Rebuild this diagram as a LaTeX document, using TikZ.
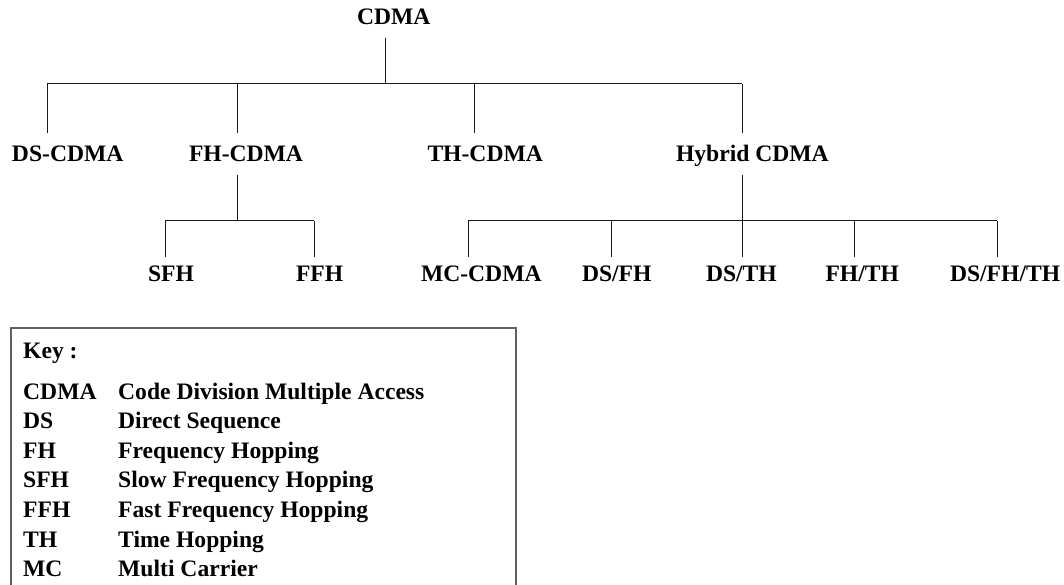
\documentclass[tikz,border=0pt]{standalone}
\usepackage{fontspec}
\setmainfont{Liberation Serif}
\newcommand{\lbfont}{\fontsize{23.6}{28}\selectfont\bfseries}
\begin{document}
\begin{tikzpicture}[x=1pt,y=-1pt,
  lbl/.style={font=\lbfont, inner sep=0pt, outer xsep=0pt,
              text height=16pt, text depth=0pt, anchor=base west},
  upper/.style={lbl, outer ysep=13pt},
  lower/.style={lbl, outer ysep=8pt},
  keytxt/.style={font=\lbfont, inner sep=0pt, anchor=base west},
  tree/.style={line width=1pt, draw=black!90},
  keybox/.style={line width=2pt, draw=black!62}]
\useasboundingbox (0,0) rectangle (1064,585);
\clip (0,0) rectangle (1064,585);

% root and first level
\node[upper] (root) at (357,25) {CDMA};
\node[upper] (ds)  at (12,162)  {DS-CDMA};
\node[upper] (fh)  at (189,162) {FH-CDMA};
\node[upper] (th)  at (427.5,162) {TH-CDMA};
\node[upper] (hyb) at (676,162) {Hybrid CDMA};

% second level
\node[lower] (sfh)    at (148,281) {SFH};
\node[lower] (ffh)    at (296,281) {FFH};
\node[lower] (mc)     at (421,281) {MC-CDMA};
\node[lower] (dsfh)   at (582,281) {DS/FH};
\node[lower] (dsth)   at (706,281) {DS/TH};
\node[lower] (fhth)   at (825.5,281) {FH/TH};
\node[lower] (dsfhth) at (950,281) {DS/FH/TH};

% junction points on the bars
\coordinate (j0)  at (385,84);
\coordinate (jds) at (47,84);
\coordinate (jfh) at (237,84);
\coordinate (jth) at (474,84);
\coordinate (jhy) at (742,84);

\coordinate (f0)   at (237,221);
\coordinate (fsfh) at (165,221);
\coordinate (fffh) at (314,221);

\coordinate (h0)     at (742,221);
\coordinate (hmc)    at (468,221);
\coordinate (hdsfh)  at (611,221);
\coordinate (hfhth)  at (854,221);
\coordinate (hdsfht) at (997,221);

% CDMA branch
\draw[tree] (root.south -| j0) -- (j0);
\draw[tree] (jds) -- (jhy);
\draw[tree] (jds) -- (jds |- ds.north);
\draw[tree] (jfh) -- (jfh |- fh.north);
\draw[tree] (jth) -- (jth |- th.north);
\draw[tree] (jhy) -- (jhy |- hyb.north);

% FH-CDMA branch
\draw[tree] (fh.south -| f0) -- (f0);
\draw[tree] (fsfh) -- (fffh);
\draw[tree] (fsfh) -- (fsfh |- sfh.north);
\draw[tree] (fffh) -- (fffh |- ffh.north);

% Hybrid CDMA branch
\draw[tree] (hyb.south -| h0) -- (h0 |- dsth.north);
\draw[tree] (hmc) -- (hdsfht);
\draw[tree] (hmc) -- (hmc |- mc.north);
\draw[tree] (hdsfh) -- (hdsfh |- dsfh.north);
\draw[tree] (hfhth) -- (hfhth |- fhth.north);
\draw[tree] (hdsfht) -- (hdsfht |- dsfhth.north);

% key
\draw[keybox] (11,620) -- (11,328) -- (516,328) -- (516,620);
\node[keytxt] (keyhead) at (23,358) {Key :};
\foreach \i/\ab/\desc in {0/CDMA/Code Division Multiple Access,
                          1/DS/Direct Sequence,
                          2/FH/Frequency Hopping,
                          3/SFH/Slow Frequency Hopping,
                          4/FFH/Fast Frequency Hopping,
                          5/TH/Time Hopping,
                          6/MC/Multi Carrier}{
  \node[keytxt] (ab\i) at (23,399+29.65*\i) {\ab};
  \node[keytxt] (de\i) at (118,399+29.65*\i) {\desc};
}
\end{tikzpicture}
\end{document}
